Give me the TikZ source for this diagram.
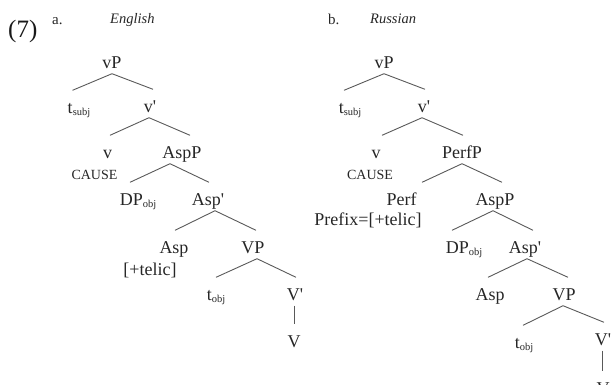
\documentclass[tikz,border=0pt]{standalone}
\usepackage{fontspec}
\setmainfont{Liberation Serif}
\newcommand\sbs[1]{{\fontsize{10.5}{10}\selectfont\raisebox{-2.5pt}{#1}}}
\newcommand\pr{\textquotesingle}
\newcommand\tbr[4]{\draw[edge] ([xshift=#2pt]#1.south) -- ([xshift=#4pt]#3.north);}
\begin{document}
\begin{tikzpicture}[x=1pt,y=-1pt,
  tn/.style={anchor=base,inner sep=0pt,text height=22.5pt,text depth=5.5pt,
    font=\fontsize{18}{20}\selectfont,text=black!85},
  small/.style={anchor=base,inner sep=0pt,font=\fontsize{14}{16}\selectfont,text=black!85},
  lab/.style={anchor=base west,inner sep=0pt,font=\fontsize{15}{17}\selectfont,text=black!85},
  edge/.style={draw=black!65,line width=0.9pt}]
\useasboundingbox (0,0) rectangle (612,384);
\clip (0,0) rectangle (612,384);
% headings
\node[anchor=base west,inner sep=0pt,font=\fontsize{25}{30}\selectfont,text=black!90] (num) at (8,37) {(7)};
\node[lab] (la) at (52,24) {a.};
\node[lab,font=\fontsize{14.5}{17}\selectfont\itshape] (len) at (110,23.5) {English};
\node[lab] (lb) at (328,24.5) {b.};
\node[lab,font=\fontsize{14.5}{17}\selectfont\itshape] (lru) at (370,23.5) {Russian};
% tree a
\node[tn] (avP) at (112,68) {vP};
\node[tn] (ats) at (79,113) {t\sbs{subj}};
\node[tn] (av1) at (150,112) {v\pr};
\node[tn] (av) at (107.5,158) {v};
\node[tn] (aAspP) at (182,158) {AspP};
\node[small] (aCause) at (94.5,179) {CAUSE};
\node[tn] (aDP) at (138,205) {DP\sbs{obj}};
\node[tn] (aAsp1) at (208,205) {Asp\pr};
\node[tn] (aAsp) at (174,253) {Asp};
\node[tn] (aVP) at (253,253) {VP};
\node[tn] (atel) at (150,275) {[+telic]};
\node[tn] (ato) at (216,300) {t\sbs{obj}};
\node[tn] (aV1) at (295,300) {V\pr};
\node[tn] (aV) at (294,347) {V};
\tbr{avP}{0}{ats}{-6.5}
\tbr{avP}{0}{av1}{3}
\tbr{av1}{-1}{av}{2.5}
\tbr{av1}{-1}{aAspP}{8}
\tbr{aAspP}{-12}{aDP}{-8}
\tbr{aAspP}{-12}{aAsp1}{1}
\tbr{aAsp1}{7}{aAsp}{1}
\tbr{aAsp1}{7}{aVP}{3}
\tbr{aVP}{4}{ato}{0}
\tbr{aVP}{4}{aV1}{1}
\tbr{aV1}{-1}{aV}{0}
% tree b
\node[tn] (bvP) at (384,68) {vP};
\node[tn] (bts) at (350,113) {t\sbs{subj}};
\node[tn] (bv1) at (424,112) {v\pr};
\node[tn] (bv) at (376,158) {v};
\node[tn] (bPerfP) at (462,158) {PerfP};
\node[small] (bCause) at (370,179) {CAUSE};
\node[tn] (bPerf) at (401.5,205) {Perf};
\node[tn] (bAspP) at (495,205) {AspP};
\node[tn] (bpref) at (368,225) {Prefix=[+telic]};
\node[tn] (bDP) at (464,253) {DP\sbs{obj}};
\node[tn] (bAsp1) at (525,253) {Asp\pr};
\node[tn] (bAsp) at (490,300) {Asp};
\node[tn] (bVP) at (564,300) {VP};
\node[tn] (bto) at (524,348) {t\sbs{obj}};
\node[tn] (bV1) at (603,345) {V\pr};
\node[tn] (bV) at (603,394) {V};
\tbr{bvP}{0}{bts}{-6}
\tbr{bvP}{0}{bv1}{1}
\tbr{bv1}{-2}{bv}{6}
\tbr{bv1}{-2}{bPerfP}{1}
\tbr{bPerfP}{0}{bPerf}{20.5}
\tbr{bPerfP}{0}{bAspP}{7}
\tbr{bAspP}{-2}{bDP}{-12}
\tbr{bAspP}{-2}{bAsp1}{8}
\tbr{bAsp1}{2}{bAsp}{-2}
\tbr{bAsp1}{2}{bVP}{4}
\tbr{bVP}{-1}{bto}{-1}
\tbr{bVP}{-1}{bV1}{1}
\tbr{bV1}{-1}{bV}{-1}
\end{tikzpicture}
\end{document}
